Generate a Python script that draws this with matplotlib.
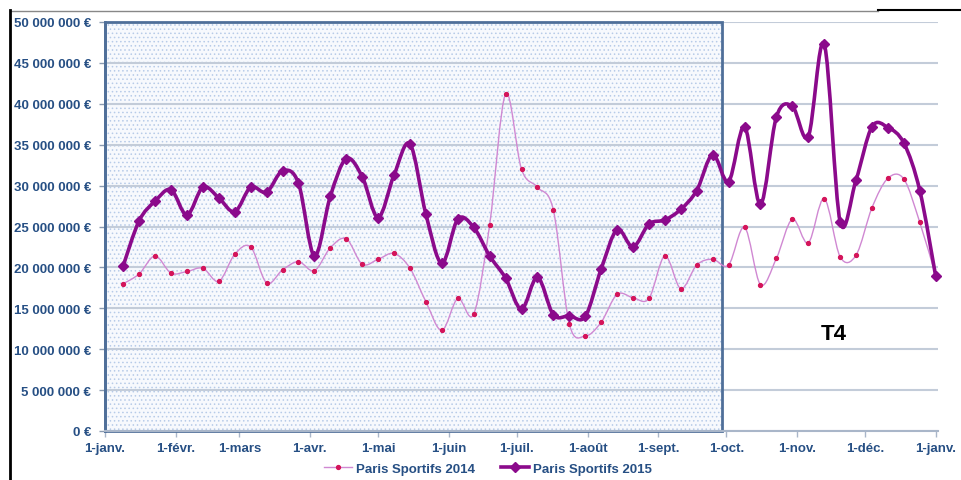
import numpy as np
import pandas as pd
import matplotlib
matplotlib.use("Agg")
import matplotlib.pyplot as plt
import matplotlib.dates as mdates
from matplotlib.path import Path
from matplotlib.patches import PathPatch, Rectangle
from matplotlib.lines import Line2D
from matplotlib.ticker import FuncFormatter

plt.rcParams['font.family'] = ['Liberation Sans', 'DejaVu Sans']
plt.rcParams['font.weight'] = 'bold'
plt.rcParams['hatch.linewidth'] = 0.6

# weekly values, in millions of euros
weeks = pd.date_range("2015-01-09", periods=52, freq="7D")
paris_2014 = [18.0, 19.2, 21.4, 19.3, 19.5, 19.9, 18.3, 21.6, 22.5, 18.1,
              19.7, 20.7, 19.6, 22.4, 23.5, 20.4, 21.0, 21.7, 19.9, 15.8,
              12.3, 16.2, 14.3, 25.2, 41.2, 32.0, 29.8, 27.0, 13.1, 11.6,
              13.3, 16.7, 16.3, 16.2, 21.4, 17.4, 20.3, 21.0, 20.3, 24.9,
              17.9, 21.1, 25.9, 23.0, 28.4, 21.3, 21.5, 27.3, 30.9, 30.8,
              25.5, 19.0]
paris_2015 = [20.2, 25.7, 28.1, 29.5, 26.4, 29.8, 28.5, 26.8, 29.8, 29.2,
              31.8, 30.3, 21.4, 28.7, 33.3, 31.1, 26.1, 31.3, 35.1, 26.5,
              20.5, 25.9, 24.9, 21.4, 18.7, 14.9, 18.8, 14.2, 14.1, 14.0,
              19.8, 24.6, 22.5, 25.3, 25.8, 27.1, 29.4, 33.8, 30.5, 37.2,
              27.7, 38.4, 39.7, 36.0, 47.3, 25.6, 30.7, 37.2, 37.1, 35.2,
              29.4, 18.9]

month_ticks = pd.date_range("2015-01-01", "2016-01-01", freq="MS")
month_labels = ["1-janv.", "1-févr.", "1-mars", "1-avr.", "1-mai", "1-juin",
                "1-juil.", "1-août", "1-sept.", "1-oct.", "1-nov.", "1-déc.",
                "1-janv."]
box_start = pd.Timestamp("2015-01-01")
box_end = pd.Timestamp("2015-09-29")

text_col = '#264f84'


def smooth_path(x, y):
    # excel-like smoothed line: bezier through the points
    pts = np.column_stack([x, y])
    p = np.vstack([pts[0], pts, pts[-1]])
    verts = [pts[0]]
    codes = [Path.MOVETO]
    for i in range(1, len(p) - 2):
        c1 = p[i] + (p[i + 1] - p[i - 1]) / 6
        c2 = p[i + 1] - (p[i + 2] - p[i]) / 6
        verts += [c1, c2, p[i + 1]]
        codes += [Path.CURVE4] * 3
    return Path(verts, codes)


fig = plt.figure(figsize=(9.61, 4.81), dpi=100)
ax = fig.add_axes([105 / 961, 1 - 432 / 481, 833 / 961, 409 / 481])

xn = mdates.date2num(weeks)
y14 = np.array(paris_2014) * 1e6
y15 = np.array(paris_2015) * 1e6

# dotted box (T1-T3)
b0 = mdates.date2num(box_start)
b1 = mdates.date2num(box_end)
ax.add_patch(Rectangle((b0, 0), b1 - b0, 50e6, facecolor='#f7f9fd', edgecolor='none', zorder=0.2))
ax.add_patch(Rectangle((b0, 0), b1 - b0, 50e6, facecolor='none', edgecolor='#b7cbe8',
                       hatch='....', lw=0, zorder=0.3))
ax.add_patch(Rectangle((b0, 0), b1 - b0, 50.05e6, fill=False, edgecolor='#4f6f99',
                       lw=2, zorder=2, clip_on=False))

ax.add_patch(PathPatch(smooth_path(xn, y14), fill=False, edgecolor='#d088d2', lw=1.0, zorder=3))
ax.plot(xn, y14, ls='none', marker='o', ms=2.8, color='#d4145a', zorder=4, clip_on=False)
ax.add_patch(PathPatch(smooth_path(xn, y15), fill=False, edgecolor='#8b0a8b', lw=2.6,
                       zorder=5, capstyle='round', joinstyle='round'))
ax.plot(xn, y15, ls='none', marker='D', ms=5.5, color='#8b0a8b', zorder=6, clip_on=False)

ax.text(mdates.date2num(pd.Timestamp("2015-11-17")), 11.9e6, "T4", fontsize=16,
        fontweight='bold', ha='center', va='center', color='black')

ax.set_xlim(mdates.date2num(month_ticks[0]), mdates.date2num(month_ticks[-1]) + 1)
ax.set_ylim(0, 50e6)
ax.set_yticks(np.arange(0, 50e6 + 1, 5e6))
ax.yaxis.set_major_formatter(FuncFormatter(lambda v, p: f"{v:,.0f}".replace(",", " ") + " €"))
ax.set_xticks(mdates.date2num(month_ticks))
ax.set_xticklabels(month_labels)

ax.set_axisbelow(True)
ax.grid(axis='y', color='#c3ccd9', lw=1.5)
for s in ['top', 'right']:
    ax.spines[s].set_visible(False)
ax.spines['left'].set_color('#4f6f99')
ax.spines['left'].set_linewidth(2)
ax.spines['bottom'].set_color('#a9b6c9')
ax.spines['bottom'].set_linewidth(1.5)
ax.tick_params(axis='y', length=4, width=1, color='#8a9ab0', pad=6, labelsize=9.5, labelcolor=text_col)
ax.tick_params(axis='x', length=4, width=1, color='#a9b6c9', pad=4, labelsize=9.5, labelcolor=text_col)

handles = [Line2D([], [], color='#d088d2', lw=1.0, marker='o', ms=2.8, mfc='#d4145a', mec='#d4145a'),
           Line2D([], [], color='#8b0a8b', lw=2.6, marker='D', ms=5.5)]
fig.legend(handles, ["Paris Sportifs 2014", "Paris Sportifs 2015"], loc='center',
           bbox_to_anchor=(0.508, 0.023), ncol=2, frameon=False, fontsize=9.5,
           labelcolor=text_col, handlelength=2.1, handletextpad=0.3, columnspacing=2.0)

# screenshot frame lines
fig.add_artist(Line2D([10 / 961, 878 / 961], [1 - 12 / 481] * 2, color='#888888', lw=1))
fig.add_artist(Line2D([878 / 961, 1], [1 - 11 / 481] * 2, color='black', lw=1.5))
fig.add_artist(Line2D([10 / 961] * 2, [0, 1 - 11 / 481], color='black', lw=2))

fig.savefig("out.png", dpi=100)
